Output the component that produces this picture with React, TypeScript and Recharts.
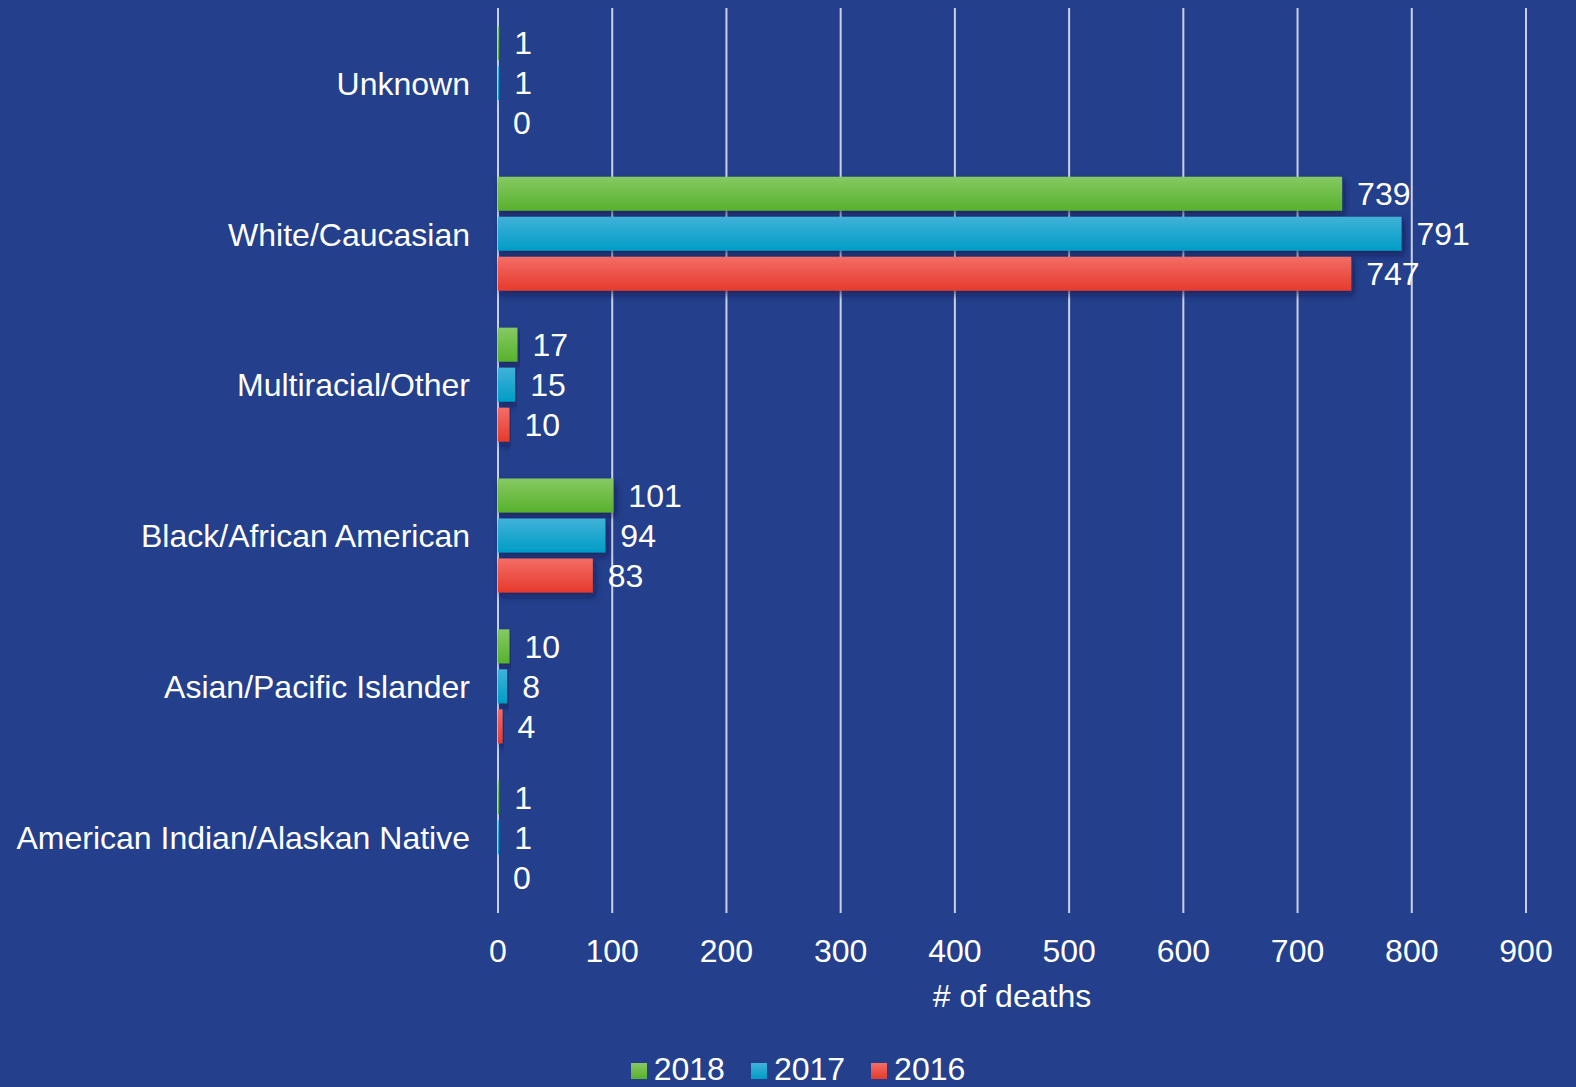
import React from 'react';
import { BarChart, Bar, XAxis, YAxis, CartesianGrid, LabelList, Legend, Label } from 'recharts';

const categories = [
  'Unknown',
  'White/Caucasian',
  'Multiracial/Other',
  'Black/African American',
  'Asian/Pacific Islander',
  'American Indian/Alaskan Native',
];
const deaths2018 = [1, 739, 17, 101, 10, 1];
const deaths2017 = [1, 791, 15, 94, 8, 1];
const deaths2016 = [0, 747, 10, 83, 4, 0];
const xTicks = [0, 100, 200, 300, 400, 500, 600, 700, 800, 900];
const seriesNames = ['2018', '2017', '2016'];
const seriesKeys = ['y2018', 'y2017', 'y2016'];
const gradTop = ['#86c963', '#41b2d9', '#f36d66'];
const gradBottom = ['#57b12c', '#009dc6', '#e63a2c'];

const data = categories.map((c, i) => ({
  category: c,
  y2018: deaths2018[i],
  y2017: deaths2017[i],
  y2016: deaths2016[i],
}));

const FONT = '"Liberation Sans", Arial, Helvetica, sans-serif';
const BG = '#243f8b';

const LegendContent = () => (
  <div
    style={{
      display: 'flex',
      justifyContent: 'center',
      alignItems: 'center',
      height: 32,
      lineHeight: '32px',
      fontFamily: FONT,
      fontSize: 32,
      color: '#ffffff',
      paddingLeft: 20,
    }}
  >
    {seriesNames.map((n, i) => (
      <div key={n} style={{ display: 'flex', alignItems: 'center', height: 32, marginRight: i < 2 ? 26 : 0 }}>
        <svg width={16} height={16} style={{ marginRight: 7, marginTop: 3 }}>
          <rect width={16} height={16} fill={`url(#lg${i})`} />
        </svg>
        <span style={{ lineHeight: '32px', height: 32 }}>{n}</span>
      </div>
    ))}
  </div>
);

const zeroMin = (v: number) => (v === 0 ? 0.01 : 0);

export default function App() {
  return (
    <div style={{ width: 1576, height: 1087, background: BG, position: 'relative', overflow: 'hidden' }}>
      <style>{`body{margin:0;background:${BG};}`}</style>
      <svg width={0} height={0} style={{ position: 'absolute' }}>
        <defs>
          {seriesNames.map((n, i) => (
            <linearGradient key={n} id={`lg${i}`} x1="0" y1="0" x2="0" y2="1">
              <stop offset="0%" stopColor={gradTop[i]} />
              <stop offset="100%" stopColor={gradBottom[i]} />
            </linearGradient>
          ))}
        </defs>
      </svg>
      <BarChart
        width={1576}
        height={1087}
        data={data}
        layout="vertical"
        margin={{ top: 8, right: 50, bottom: 43, left: 0 }}
        barSize={34}
        barGap={6}
      >
        <defs>
          {seriesNames.map((n, i) => (
            <linearGradient key={n} id={`g${i}`} x1="0" y1="0" x2="0" y2="1">
              <stop offset="0%" stopColor={gradTop[i]} />
              <stop offset="100%" stopColor={gradBottom[i]} />
            </linearGradient>
          ))}
          <filter id="shadow" x="-5%" y="-30%" width="115%" height="180%">
            <feDropShadow dx="2" dy="4" stdDeviation="3" floodColor="#0a1640" floodOpacity="0.6" />
          </filter>
        </defs>
        <CartesianGrid horizontal={false} stroke="#c9d1ea" strokeWidth={2} />
        <XAxis
          type="number"
          domain={[0, 900]}
          ticks={xTicks}
          interval={0}
          axisLine={false}
          tickLine={false}
          tickSize={0}
          tickMargin={26}
          height={99}
          tick={{ fill: '#ffffff', fontSize: 32, fontFamily: FONT }}
        >
          <Label
            value="# of deaths"
            position="insideBottom"
            offset={5}
            fill="#ffffff"
            fontSize={32}
            fontFamily={FONT}
          />
        </XAxis>
        <YAxis
          type="category"
          dataKey="category"
          width={498}
          axisLine={false}
          tickLine={false}
          tickSize={0}
          tickMargin={28}
          interval={0}
          tick={{ fill: '#ffffff', fontSize: 32, fontFamily: FONT }}
        />
        {seriesKeys.map((k, i) => (
          <Bar
            key={k}
            dataKey={k}
            name={seriesNames[i]}
            fill={`url(#g${i})`}
            filter="url(#shadow)"
            minPointSize={zeroMin}
            isAnimationActive={false}
          >
            <LabelList
              dataKey={k}
              position="right"
              offset={15}
              fill="#ffffff"
              fontSize={32}
              fontFamily={FONT}
            />
          </Bar>
        ))}
        <Legend
          verticalAlign="bottom"
          content={<LegendContent />}
          wrapperStyle={{ top: 1053, left: 0, width: 1576, height: 32, bottom: 'auto' }}
        />
      </BarChart>
    </div>
  );
}
